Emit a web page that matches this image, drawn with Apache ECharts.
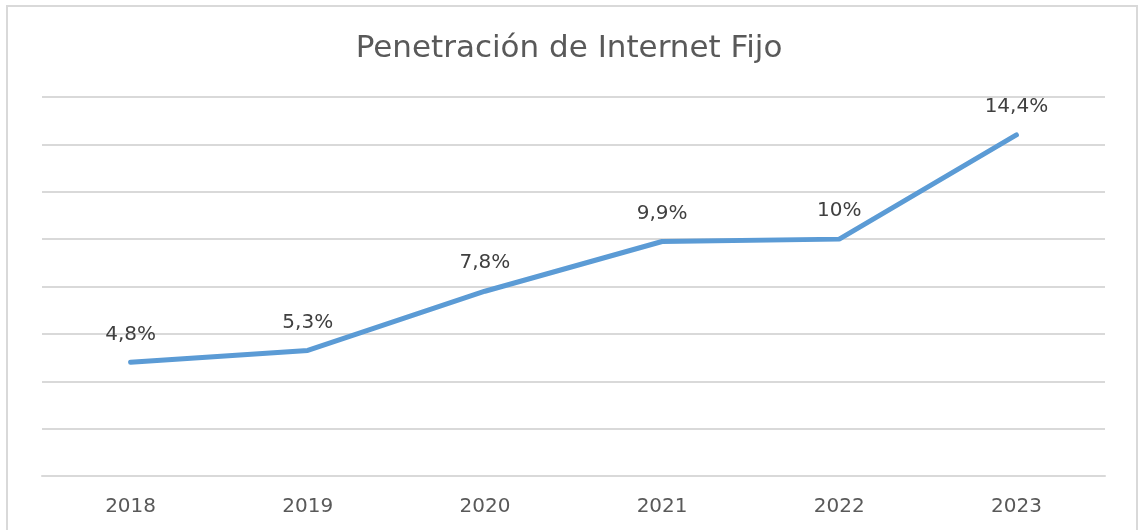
<!DOCTYPE html>
<html>
<head>
<meta charset="utf-8">
<script src="https://cdn.jsdelivr.net/npm/echarts@6/dist/echarts.min.js"></script>
<style>
  html, body { margin: 0; padding: 0; background: #fff; }
  #frame {
    position: absolute; left: 6px; top: 5px; width: 1132px; height: 530px;
    border: 2px solid #d9d9d9; box-sizing: border-box;
  }
  #chart { position: absolute; left: 0; top: 0; width: 1138px; height: 530px; }
</style>
</head>
<body>
<div id="frame"></div>
<div id="chart"></div>
<script>
// datos
var years = ['2018', '2019', '2020', '2021', '2022', '2023'];
var penetracion = [4.8, 5.3, 7.8, 9.9, 10, 14.4];

var myChart = echarts.init(document.getElementById('chart'));

var option = {
    animation: false,
    title: {
        text: 'Penetración de Internet Fijo',
        left: 'center',
        top: 28,
        textStyle: {
            fontFamily: 'DejaVu Sans',
            fontSize: 31,
            fontWeight: 'normal',
            color: '#595959'
        }
    },
    grid: {
        left: 42,
        right: 33,
        top: 97,
        bottom: 54
    },
    xAxis: {
        type: 'category',
        data: years,
        axisLine: { lineStyle: { color: '#d9d9d9', width: 2 } },
        axisTick: { show: false },
        axisLabel: {
            margin: 21,
            fontFamily: 'DejaVu Sans',
            fontSize: 20,
            color: '#595959'
        }
    },
    yAxis: {
        type: 'value',
        min: 0,
        max: 16,
        interval: 2,
        axisLabel: { show: false },
        axisLine: { show: false },
        axisTick: { show: false },
        splitLine: { lineStyle: { color: '#d9d9d9', width: 2 } }
    },
    series: [{
        type: 'line',
        data: penetracion,
        symbol: 'circle',
        symbolSize: 0,
        showSymbol: true,
        itemStyle: { color: '#5b9bd5' },
        lineStyle: { color: '#5b9bd5', width: 5, cap: 'round' },
        label: {
            show: true,
            position: 'top',
            distance: 18,
            fontFamily: 'DejaVu Sans',
            fontSize: 20,
            color: '#404040',
            formatter: function (p) {
                return String(p.value).replace('.', ',') + '%';
            }
        }
    }]
};

myChart.setOption(option);
</script>
</body>
</html>
